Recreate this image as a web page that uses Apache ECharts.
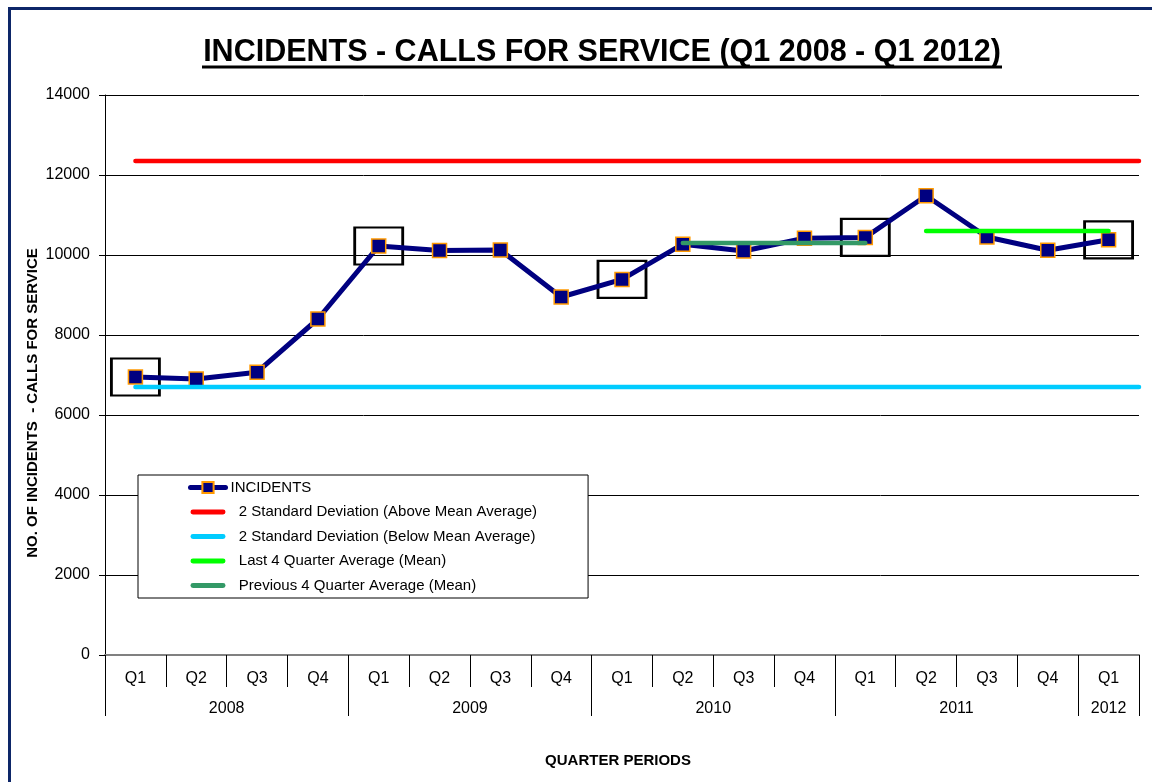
<!DOCTYPE html>
<html>
<head>
<meta charset="utf-8">
<script src="https://cdn.jsdelivr.net/npm/echarts@6/dist/echarts.min.js"></script>
<style>
html, body { margin: 0; padding: 0; background: #fff; }
#main { width: 1152px; height: 782px; }
</style>
</head>
<body>
<div id="main"></div>
<script>
// data
var quarters = ['Q1','Q2','Q3','Q4','Q1','Q2','Q3','Q4','Q1','Q2','Q3','Q4','Q1','Q2','Q3','Q4','Q1'];
var years = ['2008','2009','2010','2011','2012'];
var incidents = [6950, 6900, 7070, 8400, 10225, 10110, 10125, 8950, 9390, 10270, 10100, 10420, 10440, 11480, 10450, 10120, 10380];
var boxedIdx = [0, 4, 8, 12, 16];          // Q1 of every year
var upperSD = 12350;                        // 2 std dev above mean
var lowerSD = 6700;                         // 2 std dev below mean
var lastAvg = 10600;                        // Q2 2011 - Q1 2012
var prevAvg = 10300;                        // Q2 2010 - Q1 2011
var yTicks = [0, 2000, 4000, 6000, 8000, 10000, 12000, 14000];

var FONT = "'Liberation Sans', Arial, sans-serif";
var BAR_ICON = 'path://M2.5,0 L33.5,0 A2.5,2.5 0 0 1 33.5,5 L2.5,5 A2.5,2.5 0 0 1 2.5,0 Z';

// year row: 35 half slots, labels in the middle of each year block
var yearSlots = [];
for (var i = 0; i <= 34; i++) yearSlots.push('');
var yearPos = [4, 12, 20, 28, 33];
var yearEdges = [0, 8, 16, 24, 32, 34];
for (var j = 0; j < years.length; j++) yearSlots[yearPos[j]] = years[j];

var myChart = echarts.init(document.getElementById('main'));
var option = {
	backgroundColor : '#fff',
	animation : false,
	title : {
		text : 'INCIDENTS - CALLS FOR SERVICE (Q1 2008 - Q1 2012)',
		left : 602,
		top : 37,
		textAlign : 'center',
		padding : 0,
		textStyle : {
			fontFamily : FONT,
			fontSize : 30.5,
			fontWeight : 'bold',
			color : '#000'
		}
	},
	graphic : [ {
		type : 'rect',
		shape : { x : 9.5, y : 8.5, width : 1300, height : 1000 },
		style : { fill : 'none', stroke : '#0d2668', lineWidth : 3 }
	}, {
		type : 'rect',
		shape : { x : 202, y : 65.5, width : 800, height : 3 },
		style : { fill : '#000' }
	}, {
		type : 'text',
		x : 33,
		y : 403,
		rotation : Math.PI / 2,
		style : {
			text : 'NO. OF INCIDENTS  - CALLS FOR SERVICE',
			font : 'bold 15px ' + FONT,
			fill : '#000',
			textAlign : 'center',
			textVerticalAlign : 'middle'
		}
	}, {
		type : 'text',
		x : 618,
		y : 761,
		style : {
			text : 'QUARTER PERIODS',
			font : 'bold 15px ' + FONT,
			fill : '#000',
			textAlign : 'center',
			textVerticalAlign : 'middle'
		}
	} ],
	legend : {
		orient : 'vertical',
		left : 138,
		top : 475,
		padding : [ 5, 51, 5, 50 ],
		backgroundColor : '#fff',
		borderColor : '#000',
		borderWidth : 1,
		itemWidth : 35,
		itemHeight : 14,
		itemGap : 9.5,
		textStyle : { fontFamily : FONT, fontSize : 15, color : '#000' },
		formatter : function(name) {
			return name == 'INCIDENTS' ? name : '  ' + name;
		},
		data : [ {
			name : 'INCIDENTS',
			lineStyle : { width : 5, cap : 'round' }
		}, {
			name : '2 Standard Deviation (Above Mean Average)',
			icon : BAR_ICON
		}, {
			name : '2 Standard Deviation (Below Mean Average)',
			icon : BAR_ICON
		}, {
			name : 'Last 4 Quarter Average (Mean)',
			icon : BAR_ICON
		}, {
			name : 'Previous 4 Quarter Average (Mean)',
			icon : BAR_ICON
		} ]
	},
	grid : { left : 105, right : 13, top : 95, bottom : 127 },
	xAxis : [ {
		type : 'category',
		data : quarters,
		boundaryGap : true,
		axisLine : { lineStyle : { color : '#808080', width : 2 } },
		axisTick : { show : true, interval : 0, length : 32, lineStyle : { color : '#000', width : 1 } },
		axisLabel : { interval : 0, margin : 16, fontFamily : FONT, fontSize : 16, color : '#000' },
		splitLine : { show : false }
	}, {
		type : 'category',
		position : 'bottom',
		data : yearSlots,
		boundaryGap : false,
		axisLine : { show : false },
		axisTick : {
			show : true,
			length : 61,
			interval : function(idx) { return yearEdges.indexOf(idx) >= 0; },
			lineStyle : { color : '#000', width : 1 }
		},
		axisLabel : {
			margin : 46,
			interval : function(idx) { return yearPos.indexOf(idx) >= 0; },
			fontFamily : FONT, fontSize : 16, color : '#000'
		},
		splitLine : { show : false }
	}, {
		type : 'value',
		min : 0,
		max : 17,
		show : false
	} ],
	yAxis : {
		type : 'value',
		min : yTicks[0],
		max : yTicks[yTicks.length - 1],
		interval : yTicks[1] - yTicks[0],
		axisLine : { show : true, lineStyle : { color : '#000', width : 1 } },
		axisTick : { show : true, length : 6, lineStyle : { color : '#000' } },
		axisLabel : {
			margin : 15, fontFamily : FONT, fontSize : 16, color : '#000',
			formatter : function(v) { return String(v); }
		},
		splitLine : { lineStyle : { color : '#000', width : 1 } }
	},
	series : [ {
		name : 'Q1 box',
		type : 'scatter',
		xAxisIndex : 0,
		symbol : 'rect',
		symbolSize : [ 48, 37 ],
		itemStyle : { color : 'rgba(0,0,0,0)', borderColor : '#000', borderWidth : 2.5, opacity : 1 },
		silent : true,
		z : 1,
		data : boxedIdx.map(function(k) { return [ k, incidents[k] ]; })
	}, {
		name : 'INCIDENTS',
		type : 'line',
		xAxisIndex : 0,
		data : incidents,
		symbol : 'rect',
		symbolSize : 14,
		showAllSymbol : true,
		lineStyle : { color : '#000080', width : 5 },
		itemStyle : { color : '#000080', borderColor : '#FF9900', borderWidth : 1.5 },
		z : 3
	}, {
		name : '2 Standard Deviation (Above Mean Average)',
		type : 'line',
		xAxisIndex : 2,
		symbol : 'none',
		lineStyle : { color : '#FF0000', width : 4.5, cap : 'round' },
		itemStyle : { color : '#FF0000' },
		data : [ [ 0.5, upperSD ], [ 17, upperSD ] ],
		z : 4
	}, {
		name : '2 Standard Deviation (Below Mean Average)',
		type : 'line',
		xAxisIndex : 2,
		symbol : 'none',
		lineStyle : { color : '#00CCFF', width : 4.5, cap : 'round' },
		itemStyle : { color : '#00CCFF' },
		data : [ [ 0.5, lowerSD ], [ 17, lowerSD ] ],
		z : 4
	}, {
		name : 'Last 4 Quarter Average (Mean)',
		type : 'line',
		xAxisIndex : 2,
		symbol : 'none',
		lineStyle : { color : '#00FF00', width : 4.5, cap : 'round' },
		itemStyle : { color : '#00FF00' },
		data : [ [ 13.5, lastAvg ], [ 16.5, lastAvg ] ],
		z : 4
	}, {
		name : 'Previous 4 Quarter Average (Mean)',
		type : 'line',
		xAxisIndex : 2,
		symbol : 'none',
		lineStyle : { color : '#339966', width : 4.5, cap : 'round' },
		itemStyle : { color : '#339966' },
		data : [ [ 9.5, prevAvg ], [ 12.5, prevAvg ] ],
		z : 4
	} ]
};
myChart.setOption(option);
</script>
</body>
</html>
